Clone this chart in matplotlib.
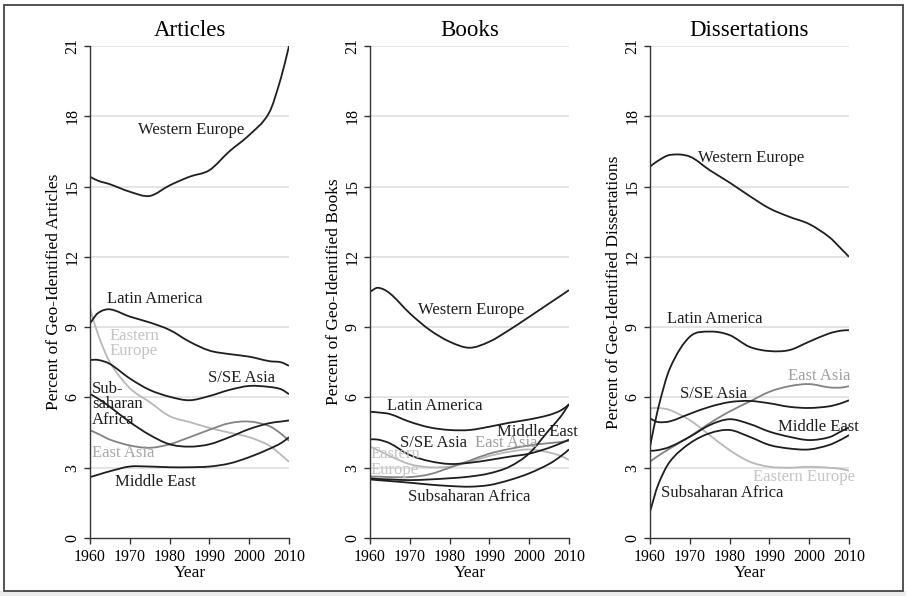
import numpy as np
import matplotlib
matplotlib.use('Agg')
import matplotlib.pyplot as plt
from matplotlib.path import Path
from matplotlib.patches import PathPatch, Rectangle

plt.rcParams['font.family'] = ['Liberation Serif', 'DejaVu Serif']

# values (percent of geo-identified items)
years = [1960, 1962, 1965, 1970, 1975, 1980, 1985, 1990, 1995, 2000, 2005, 2008, 2010]

art_west_europe = [15.42, 15.25, 15.1, 14.78, 14.6, 15.05, 15.42, 15.7, 16.5, 17.2, 18.15, 19.65, 21.0]
art_latin_america = [9.16, 9.6, 9.76, 9.45, 9.2, 8.88, 8.38, 8.0, 7.85, 7.74, 7.55, 7.5, 7.35]
art_east_europe = [9.8, 8.7, 7.5, 6.4, 5.8, 5.2, 4.95, 4.7, 4.5, 4.3, 3.95, 3.55, 3.25]
art_sse_asia = [7.6, 7.6, 7.43, 6.81, 6.32, 6.03, 5.88, 6.06, 6.32, 6.49, 6.45, 6.35, 6.14]
art_ss_africa = [6.15, 5.95, 5.6, 4.95, 4.4, 4.0, 3.9, 4.0, 4.3, 4.65, 4.9, 4.97, 5.02]
art_east_asia = [4.6, 4.45, 4.2, 3.95, 3.85, 4.0, 4.3, 4.62, 4.9, 4.97, 4.78, 4.45, 4.15]
art_middle_east = [2.6, 2.7, 2.85, 3.05, 3.05, 3.02, 3.02, 3.05, 3.18, 3.45, 3.8, 4.05, 4.3]

book_west_europe = [10.51, 10.68, 10.44, 9.59, 8.88, 8.38, 8.12, 8.38, 8.88, 9.44, 10.01, 10.35, 10.58]
book_latin_america = [5.39, 5.36, 5.29, 4.96, 4.72, 4.61, 4.61, 4.75, 4.92, 5.06, 5.25, 5.45, 5.7]
book_sse_asia = [4.21, 4.2, 4.04, 3.54, 3.28, 3.16, 3.21, 3.33, 3.47, 3.6, 3.85, 4.05, 4.2]
book_east_asia = [2.62, 2.62, 2.6, 2.6, 2.72, 3.0, 3.3, 3.6, 3.8, 3.95, 4.05, 4.1, 4.15]
book_east_europe = [3.9, 3.75, 3.5, 3.15, 3.02, 3.05, 3.25, 3.5, 3.68, 3.78, 3.65, 3.5, 3.33]
book_middle_east = [2.55, 2.52, 2.5, 2.47, 2.5, 2.55, 2.62, 2.76, 3.04, 3.61, 4.61, 5.2, 5.72]
book_ss_africa = [2.5, 2.47, 2.43, 2.36, 2.28, 2.22, 2.19, 2.26, 2.47, 2.76, 3.16, 3.5, 3.78]

diss_west_europe = [15.85, 16.1, 16.35, 16.28, 15.7, 15.17, 14.6, 14.07, 13.71, 13.4, 12.85, 12.35, 12.0]
diss_latin_america = [3.9, 5.5, 7.24, 8.59, 8.81, 8.66, 8.16, 7.98, 8.02, 8.38, 8.73, 8.85, 8.87]
diss_sse_asia = [5.1, 4.95, 4.98, 5.3, 5.6, 5.8, 5.85, 5.75, 5.6, 5.55, 5.62, 5.75, 5.88]
diss_east_asia = [3.26, 3.5, 3.82, 4.33, 4.9, 5.4, 5.82, 6.24, 6.48, 6.57, 6.43, 6.42, 6.48]
diss_east_europe = [5.53, 5.55, 5.46, 5.03, 4.39, 3.75, 3.26, 3.04, 3.0, 3.04, 3.0, 2.95, 2.87]
diss_middle_east = [3.72, 3.75, 3.89, 4.32, 4.82, 5.07, 4.87, 4.54, 4.32, 4.18, 4.3, 4.55, 4.72]
diss_ss_africa = [1.12, 2.25, 3.26, 4.04, 4.47, 4.61, 4.32, 3.97, 3.82, 3.78, 3.97, 4.2, 4.39]

panel_titles = ['Articles', 'Books', 'Dissertations']
y_titles = ['Percent of Geo-Identified Articles', 'Percent of Geo-Identified Books',
            'Percent of Geo-Identified Dissertations']
y_ticks = [0, 3, 6, 9, 12, 15, 18, 21]
x_ticks = [1960, 1970, 1980, 1990, 2000, 2010]

BLACK = '#1e1e1e'
GRAY = '#838383'
LIGHT = '#b8b8b8'

panels = [
    [(art_west_europe, BLACK), (art_east_europe, LIGHT), (art_east_asia, GRAY),
     (art_latin_america, BLACK), (art_sse_asia, BLACK), (art_ss_africa, BLACK),
     (art_middle_east, BLACK)],
    [(book_west_europe, BLACK), (book_east_europe, LIGHT), (book_east_asia, GRAY),
     (book_latin_america, BLACK), (book_sse_asia, BLACK), (book_middle_east, BLACK),
     (book_ss_africa, BLACK)],
    [(diss_west_europe, BLACK), (diss_east_europe, LIGHT), (diss_east_asia, GRAY),
     (diss_latin_america, BLACK), (diss_sse_asia, BLACK), (diss_middle_east, BLACK),
     (diss_ss_africa, BLACK)],
]

# label text, (year, value) anchor at left/centre, colour
labels = [
    [('Western Europe', 1972.1, 17.4, BLACK), ('Latin America', 1964.3, 10.2, BLACK),
     ('Eastern\nEurope', 1965.0, 8.3, '#c4c4c4'), ('S/SE Asia', 1989.6, 6.83, BLACK),
     ('Sub-\nsaharan\nAfrica', 1960.5, 5.7, BLACK), ('East Asia', 1960.5, 3.63, '#a8a8a8'),
     ('Middle East', 1966.3, 2.39, BLACK)],
    [('Western Europe', 1972.0, 9.73, BLACK), ('Latin America', 1964.3, 5.63, BLACK),
     ('S/SE Asia', 1967.5, 4.05, BLACK), ('East Asia', 1986.3, 4.05, '#a0a0a0'),
     ('Middle East', 1991.9, 4.52, BLACK), ('Eastern\nEurope', 1960.25, 3.24, '#c4c4c4'),
     ('Subsaharan Africa', 1969.5, 1.75, BLACK)],
    [('Western Europe', 1972.1, 16.22, BLACK), ('Latin America', 1964.3, 9.35, BLACK),
     ('East Asia', 1994.6, 6.91, '#a0a0a0'), ('S/SE Asia', 1967.6, 6.15, BLACK),
     ('Middle East', 1992.1, 4.74, BLACK), ('Eastern Europe', 1985.8, 2.6, '#c4c4c4'),
     ('Subsaharan Africa', 1962.8, 1.92, BLACK)],
]


def smooth_path(x, y):
    # cubic hermite through the points, drawn as bezier segments
    x = np.asarray(x, float)
    y = np.asarray(y, float)
    n = len(x)
    m = np.empty(n)
    m[1:-1] = (y[2:] - y[:-2]) / (x[2:] - x[:-2])
    m[0] = (y[1] - y[0]) / (x[1] - x[0])
    m[-1] = (y[-1] - y[-2]) / (x[-1] - x[-2])
    verts = [(x[0], y[0])]
    codes = [Path.MOVETO]
    for i in range(n - 1):
        h = x[i + 1] - x[i]
        verts += [(x[i] + h / 3, y[i] + m[i] * h / 3),
                  (x[i + 1] - h / 3, y[i + 1] - m[i + 1] * h / 3),
                  (x[i + 1], y[i + 1])]
        codes += [Path.CURVE4] * 3
    return Path(verts, codes)


W, H = 906, 596
fig = plt.figure(figsize=(W / 100, H / 100), dpi=100)
fig.patches.append(Rectangle((0, 0), 1, 5 / H, transform=fig.transFigure,
                             facecolor='#ececec', edgecolor='none', zorder=-2))
fig.patches.append(Rectangle((4 / W, 5 / H), 899 / W, 586 / H, transform=fig.transFigure,
                             facecolor='white', edgecolor='#444444', lw=1.3, zorder=-1))

lefts = [90, 370, 650]
for k in range(3):
    ax = fig.add_axes([lefts[k] / W, (H - 538) / H, 199 / W, 492 / H])
    ax.set_xlim(1960, 2010)
    ax.set_ylim(0, 21)
    ax.set_facecolor('none')
    for s in ['top', 'right']:
        ax.spines[s].set_visible(False)
    for s in ['left', 'bottom']:
        ax.spines[s].set_color('#333333')
        ax.spines[s].set_linewidth(1.0)
    ax.set_yticks(y_ticks)
    ax.set_xticks(x_ticks)
    ax.tick_params(axis='both', length=4, width=1.0, color='#333333', labelsize=11.5)
    ax.tick_params(axis='y', pad=3)
    ax.tick_params(axis='x', pad=4)
    for t in ax.get_yticklabels():
        t.set_rotation(90)
        t.set_va('center')
    for yv in y_ticks[1:]:
        ax.axhline(yv, color='#e2e2e2', lw=1.3, zorder=0)

    for vals, c in panels[k]:
        ax.add_patch(PathPatch(smooth_path(years, vals), facecolor='none', edgecolor=c,
                               lw=1.3, zorder=2))

    for txt, xv, yv, c in labels[k]:
        ax.text(xv, yv, txt, color=c, fontsize=12, ha='left', va='center',
                linespacing=0.95, zorder=3)

    ax.text(0.5, 1 + 16 / 492, panel_titles[k], transform=ax.transAxes, ha='center',
            va='center', fontsize=16.5)
    ax.text(-36 / 199, 0.5, y_titles[k], transform=ax.transAxes, rotation=90,
            ha='center', va='center', fontsize=12.5)
    ax.text(0.5, -35 / 492, 'Year', transform=ax.transAxes, ha='center', va='center',
            fontsize=12.5)

fig.savefig('out.png', dpi=100)
